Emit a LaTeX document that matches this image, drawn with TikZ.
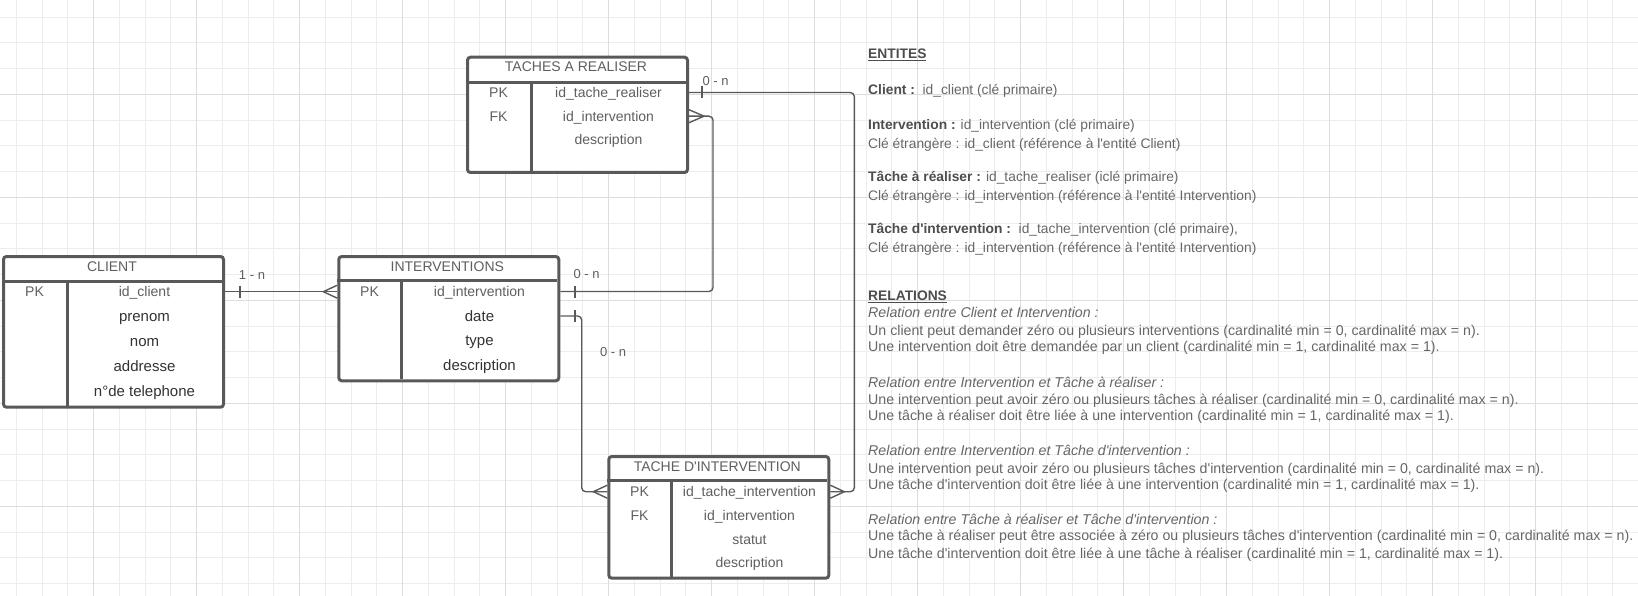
\documentclass[tikz,border=0pt]{standalone}
\usepackage{fontspec}
\setmainfont{Liberation Sans}
\usetikzlibrary{calc}
\definecolor{gridmin}{HTML}{EDEDED}
\definecolor{gridmaj}{HTML}{DDDDDD}
\definecolor{boxgray}{HTML}{595959}
\definecolor{txtgray}{HTML}{5F5F5F}
\definecolor{txtdark}{HTML}{333333}
\definecolor{notegray}{HTML}{666666}
\definecolor{notedark}{HTML}{4D4D4D}

\begin{document}
\begin{tikzpicture}[x=1pt,y=-1pt,
  tbl/.style={draw=boxgray,line width=3pt,rounded corners=3pt,fill=white,inner sep=0pt,anchor=north west},
  sep/.style={draw=boxgray,line width=3pt},
  fld/.style={font=\fontsize{14}{16}\selectfont,text=txtgray,inner sep=0pt,text height=10pt,text depth=0pt},
  fldd/.style={font=\fontsize{15}{17}\selectfont,text=txtdark,inner sep=0pt,text height=10pt,text depth=0pt},
  conn/.style={draw=boxgray,line width=1.4pt},
  card/.style={font=\fontsize{13}{15}\selectfont,text=txtgray,inner sep=0pt,text height=9.5pt,text depth=0pt},
  note/.style={font=\fontsize{13.8}{16}\selectfont,text=notegray,inner sep=0pt,anchor=west,text height=10pt,text depth=0pt},
  relnote/.style={note,font=\fontsize{14.2}{16}\selectfont}]
\useasboundingbox (0,0) rectangle (1638,596);
% background grid, minor then major lines
\foreach \x in {16.45,42.2,...,1638} \draw[gridmin,line width=1pt] (\x,0) -- (\x,596);
\foreach \y in {17.05,42.8,...,596} \draw[gridmin,line width=1pt] (0,\y) -- (1638,\y);
\foreach \x in {93.7,196.7,...,1638} \draw[gridmaj,line width=1pt] (\x,0) -- (\x,596);
\foreach \y in {94.3,197.3,...,596} \draw[gridmaj,line width=1pt] (0,\y) -- (1638,\y);

% CLIENT
\node[tbl,minimum width=220pt,minimum height=150.7pt] (cli) at (2,255) {};
\draw[sep] (2,281.3) -- (222,281.3);
\draw[sep] (67,281.3) -- (67,405.7);
\node[fld] (cli-t) at (112,266.7) {CLIENT};
\node[fld] (cli-pk) at (34.5,291.7) {PK};
\node[fld] (cli-1) at (144.5,291.7) {id\_client};
\foreach \t [count=\k from 2] in {prenom,nom,addresse,n°de telephone}
  \node[fldd] (cli-\k) at ({144.5},{291.7+24.9*(\k-1)}) {\t};

% INTERVENTIONS
\node[tbl,minimum width=220pt,minimum height=124.3pt] (int) at (337.3,255) {};
\draw[sep] (337.3,280.7) -- (557.3,280.7);
\draw[sep] (401.7,280.7) -- (401.7,379.3);
\node[fld] (int-t) at (447.3,266) {INTERVENTIONS};
\node[fld] (int-pk) at (369.5,291.5) {PK};
\node[fld] (int-1) at (479.5,291.5) {id\_intervention};
\foreach \t [count=\k from 2] in {date,type,description}
  \node[fldd] (int-\k) at ({479.5},{291.5+24.5*(\k-1)}) {\t};

% TACHES A REALISER
\node[tbl,minimum width=220pt,minimum height=115.3pt] (tar) at (466,55.7) {};
\draw[sep] (466,82.7) -- (686,82.7);
\draw[sep] (531,82.7) -- (531,171);
\node[fld] (tar-t) at (576,66.7) {TACHES A REALISER};
\node[fld] (tar-pk) at (498.5,92.5) {PK};
\node[fld] (tar-fk) at (498.5,116.2) {FK};
\foreach \t [count=\k] in {id\_tache\_realiser,id\_intervention,description}
  \node[fld] (tar-\k) at ({608.5},{92.5+23.7*(\k-1)}) {\t};

% TACHE D'INTERVENTION
\node[tbl,minimum width=220pt,minimum height=121.7pt] (tdi) at (607.3,455) {};
\draw[sep] (607.3,480.7) -- (827.3,480.7);
\draw[sep] (671.7,480.7) -- (671.7,576.7);
\node[fld] (tdi-t) at (717.3,466) {TACHE D\textquotesingle INTERVENTION};
\node[fld] (tdi-pk) at (639.5,491.7) {PK};
\node[fld] (tdi-fk) at (639.5,515.4) {FK};
\foreach \t [count=\k] in {id\_tache\_intervention,id\_intervention,statut,description}
  \node[fld] (tdi-\k) at ({749.5},{491.7+23.7*(\k-1)}) {\t};

% connectors
\draw[conn] (cli.east |- cli-1) -- (int.west |- cli-1);
\draw[conn,rounded corners=4pt] (int.east |- int-1) -| (713,0 |- tar-2) -- (tar.east |- tar-2);
\draw[conn,rounded corners=4pt] (int.east |- int-2) -| (581.7,0 |- tdi-1) -- (tdi.west |- tdi-1);
\draw[conn,rounded corners=4pt] (tar.east |- tar-1) -| (854.3,0 |- tdi-1) -- (tdi.east |- tdi-1);
% one side: ticks
\draw[conn] ($(cli.east |- cli-1)+(15,-6)$) -- ++(0,12);
\draw[conn] ($(int.east |- int-1)+(14.5,-6)$) -- ++(0,12);
\draw[conn] ($(int.east |- int-2)+(14.5,-6)$) -- ++(0,12);
\draw[conn] ($(tar.east |- tar-1)+(13,-6)$) -- ++(0,12);
% many side: crow's feet
\draw[conn] ($(int.west |- cli-1)+(0,-6.5)$) -- ++(-14,6.5) -- ++(14,6.5);
\draw[conn] ($(tar.east |- tar-2)+(0,-6.5)$) -- ++(15,6.5) -- ++(-15,6.5);
\draw[conn] ($(tdi.west |- tdi-1)+(0,-6.5)$) -- ++(-14,6.5) -- ++(14,6.5);
\draw[conn] ($(tdi.east |- tdi-1)+(0,-6.5)$) -- ++(14,6.5) -- ++(-14,6.5);
\node[card] (c1) at (252,274.3) {1 - n};
\node[card] (c2) at (586.5,274) {0 - n};
\node[card] (c3) at (613,351.7) {0 - n};
\node[card] (c4) at (715.5,80.7) {0 - n};

% notes on the right
\node[note,text=notedark] (ent) at (868,53.5) {\bfseries\underline{ENTITES}};
\node[note] (e1) at (868,89.8) {{\color{notedark}\bfseries Client :}\ \ id\_client (clé primaire)};
\node[note] (e2) at (868,124.3) {{\color{notedark}\bfseries Intervention :} id\_intervention (clé primaire)};
\node[note] (e3) at (868,143.1) {Clé étrangère : id\_client (référence à l\textquotesingle entité Client)};
\node[note] (e4) at (868,176.5) {{\color{notedark}\bfseries Tâche à réaliser :} id\_tache\_realiser (iclé primaire)};
\node[note] (e5) at (868,195.3) {Clé étrangère : id\_intervention (référence à l\textquotesingle entité Intervention)};
\node[note] (e6) at (868,228.8) {{\color{notedark}\bfseries Tâche d\textquotesingle intervention :}\ \ id\_tache\_intervention (clé primaire),};
\node[note] (e7) at (868,247.6) {Clé étrangère : id\_intervention (référence à l\textquotesingle entité Intervention)};
\node[note,text=notedark] (rel) at (868,295.6) {\bfseries\underline{RELATIONS}};
\foreach \y/\t [count=\k] in {
  312.3/{\itshape Relation entre Client et Intervention :},
  330.1/{Un client peut demander zéro ou plusieurs interventions (cardinalité min = 0, cardinalité max = n).},
  346.8/{Une intervention doit être demandée par un client (cardinalité min = 1, cardinalité max = 1).},
  382.3/{\itshape Relation entre Intervention et Tâche à réaliser :},
  399/{Une intervention peut avoir zéro ou plusieurs tâches à réaliser (cardinalité min = 0, cardinalité max = n).},
  415.8/{Une tâche à réaliser doit être liée à une intervention (cardinalité min = 1, cardinalité max = 1).},
  450.2/{\itshape Relation entre Intervention et Tâche d\textquotesingle intervention :},
  468/{Une intervention peut avoir zéro ou plusieurs tâches d\textquotesingle intervention (cardinalité min = 0, cardinalité max = n).},
  484.7/{Une tâche d\textquotesingle intervention doit être liée à une intervention (cardinalité min = 1, cardinalité max = 1).},
  519.2/{\itshape Relation entre Tâche à réaliser et Tâche d\textquotesingle intervention :},
  535.9/{Une tâche à réaliser peut être associée à zéro ou plusieurs tâches d\textquotesingle intervention (cardinalité min = 0, cardinalité max = n).},
  553.6/{Une tâche d\textquotesingle intervention doit être liée à une tâche à réaliser (cardinalité min = 1, cardinalité max = 1).}}
  \node[relnote] (rel-\k) at (868,\y) {\t};
\end{tikzpicture}
\end{document}
